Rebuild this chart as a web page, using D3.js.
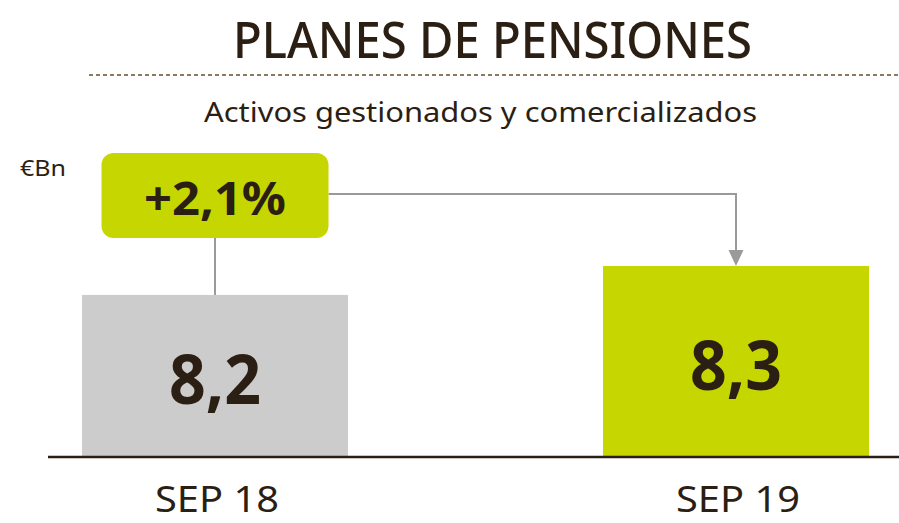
<!DOCTYPE html>
<html><head><meta charset="utf-8">
<script src="https://cdn.jsdelivr.net/npm/d3@7"></script>
<style>html,body{margin:0;padding:0;background:#fff;}svg{display:block;}</style>
</head><body>
<script>
const categories = ["SEP 18", "SEP 19"];
const values = [8.2, 8.3];
const valueLabels = ["8,2", "8,3"];
const changeLabel = "+2,1%";
const title = "PLANES DE PENSIONES";
const subtitle = "Activos gestionados y comercializados";
const unitLabel = "€Bn";

const W = 899, H = 523;
const textColor = "#2b1e13";
const green = "#c5d600";
const gray = "#cccccc";
const lineGray = "#9a9a9a";
const font = "'Noto Sans', 'Open Sans', sans-serif";

const svg = d3.select("body").append("svg").attr("width", W).attr("height", H);

const x = d3.scaleBand().domain(categories).range([82, 869]).paddingInner(0.4894).paddingOuter(0);
const y = d3.scaleLinear().domain([7.64, 8.3]).range([457, 266]);

// Title
svg.append("text").attr("x", 233).attr("y", 58).text(title)
  .attr("font-family", font).attr("font-weight", 500).attr("font-size", 51).attr("fill", textColor)
  .attr("textLength", 519).attr("lengthAdjust", "spacingAndGlyphs");
// Dotted rule
svg.append("line").attr("x1", 89).attr("x2", 899).attr("y1", 75).attr("y2", 75)
  .attr("stroke", "#8a7a5e").attr("stroke-width", 2).attr("stroke-dasharray", "4,3");
// Subtitle
svg.append("text").attr("x", 204).attr("y", 122).text(subtitle)
  .attr("font-family", font).attr("font-size", 28).attr("fill", textColor)
  .attr("textLength", 553).attr("lengthAdjust", "spacingAndGlyphs");
// Unit
svg.append("text").attr("x", 20).attr("y", 176).text(unitLabel)
  .attr("font-family", font).attr("font-size", 22).attr("fill", textColor)
  .attr("textLength", 46).attr("lengthAdjust", "spacingAndGlyphs");

// Bars
const colors = [gray, green];
svg.selectAll("rect.bar").data(values).join("rect").attr("class", "bar")
  .attr("x", (d, i) => x(categories[i])).attr("width", x.bandwidth())
  .attr("y", d => y(d)).attr("height", d => y.range()[0] - y(d))
  .attr("fill", (d, i) => colors[i]);

// Baseline
svg.append("line").attr("x1", 48).attr("x2", 899).attr("y1", y.range()[0]).attr("y2", y.range()[0])
  .attr("stroke", textColor).attr("stroke-width", 2.5);

// Value labels
svg.selectAll("text.val").data(values).join("text").attr("class", "val")
  .attr("x", (d, i) => x(categories[i]) + x.bandwidth() / 2)
  .attr("y", d => (y(d) + y.range()[0]) / 2 + 28)
  .attr("text-anchor", "middle").text((d, i) => valueLabels[i])
  .attr("font-family", font).attr("font-weight", 700).attr("font-size", 68).attr("fill", textColor)
  .attr("textLength", 92).attr("lengthAdjust", "spacingAndGlyphs");

// Category labels
svg.selectAll("text.cat").data(categories).join("text").attr("class", "cat")
  .attr("x", d => x(d) + x.bandwidth() / 2 + 2).attr("y", 512)
  .attr("text-anchor", "middle").text(d => d)
  .attr("font-family", font).attr("font-size", 37).attr("fill", textColor)
  .attr("textLength", 124).attr("lengthAdjust", "spacingAndGlyphs");

// Connector & badge
const c0 = x(categories[0]) + x.bandwidth() / 2;
const c1 = x(categories[1]) + x.bandwidth() / 2;
const badgeW = 227, badgeTop = 153, badgeBottom = 238, connY = 194;
svg.append("line").attr("x1", c0).attr("x2", c0).attr("y1", badgeBottom).attr("y2", y(values[0]))
  .attr("stroke", lineGray).attr("stroke-width", 2);
svg.append("path")
  .attr("d", `M${c0 + badgeW / 2},${connY}H${c1}V${y(values[1]) - 14}`)
  .attr("fill", "none").attr("stroke", lineGray).attr("stroke-width", 2);
svg.append("path")
  .attr("d", `M${c1 - 7.5},${y(values[1]) - 16}L${c1 + 7.5},${y(values[1]) - 16}L${c1},${y(values[1])}Z`)
  .attr("fill", lineGray);

svg.append("rect").attr("x", c0 - badgeW / 2).attr("y", badgeTop)
  .attr("width", badgeW).attr("height", badgeBottom - badgeTop).attr("rx", 12).attr("ry", 12)
  .attr("fill", green);
svg.append("text").attr("x", c0).attr("y", 215).attr("text-anchor", "middle").text(changeLabel)
  .attr("font-family", font).attr("font-weight", 700).attr("font-size", 46).attr("fill", textColor)
  .attr("textLength", 142).attr("lengthAdjust", "spacingAndGlyphs");
</script>
</body></html>
